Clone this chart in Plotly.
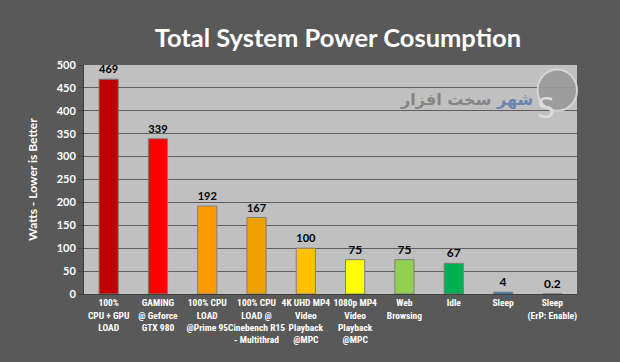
import plotly.graph_objects as go

categories = [
    "100%<br>CPU + GPU<br>LOAD",
    "GAMING<br>@ Geforce<br>GTX 980",
    "100% CPU<br>LOAD<br>@Prime 95",
    "100% CPU<br>LOAD @<br>Cinebench R15<br>- Multithrad",
    "4K UHD MP4<br>Video<br>Playback<br>@MPC",
    "1080p MP4<br>Video<br>Playback<br>@MPC",
    "Web<br>Browsing",
    "Idle",
    "Sleep",
    "Sleep<br>(ErP: Enable)",
]
values = [469, 339, 192, 167, 100, 75, 75, 67, 4, 0.2]
value_labels = ["469", "339", "192", "167", "100", "75", "75", "67", "4", "0.2"]
colors = ["#C00000", "#FF0000", "#FF9900", "#EDA000", "#FFC000",
          "#FFFF00", "#92D050", "#00B050", "#0070C0", "#1a1a1a"]
y_ticks = [0, 50, 100, 150, 200, 250, 300, 350, 400, 450, 500]

x_idx = list(range(len(categories)))

fig = go.Figure()
fig.add_trace(go.Bar(
    x=x_idx, y=values,
    marker=dict(color=colors, line=dict(color="#7f7f7f", width=1)),
    text=["<b>%s</b>" % t for t in value_labels], textposition="outside", cliponaxis=False,
    textfont=dict(family="Lato", size=12, color="#000000"),
    width=0.39,
))

fig.update_layout(
    width=620, height=362,
    paper_bgcolor="#595959", plot_bgcolor="#C0C0C0",
    margin=dict(l=84, r=43, t=65, b=68, autoexpand=False),
    showlegend=False,
    title=dict(text="<b>Total System Power Cosumption</b>", x=0.545, xanchor="center",
               y=0.895, yanchor="middle",
               font=dict(family="Lato", size=25.5, color="#FFFFFF")),
    font=dict(family="Lato"),
)
fig.update_xaxes(
    tickmode="array", tickvals=x_idx, ticktext=["<b>%s</b>" % c for c in categories],
    range=[-0.5, 9.5], showgrid=False, ticks="", tickangle=0, automargin=False,
    tickfont=dict(family="Liberation Sans Narrow, Roboto Condensed, Lato", size=9.5, color="#FFFFFF"),
    showline=True, linecolor="#404040", linewidth=1,
)
fig.update_yaxes(
    range=[0, 500], tickvals=y_ticks, ticktext=["<b>%d</b>" % v for v in y_ticks],
    showgrid=True, gridcolor="#5f5f5f", gridwidth=1, automargin=False,
    ticks="outside", ticklen=5, tickcolor="#404040",
    showline=True, linecolor="#404040", linewidth=1,
    tickfont=dict(family="Lato", size=11, color="#FFFFFF"),
    title=dict(text="<b>Watts - Lower is Better</b>", standoff=16,
               font=dict(family="Lato", size=12, color="#FFFFFF")),
    zeroline=False,
)

# watermark
fig.add_shape(type="circle", xref="paper", yref="paper",
              x0=0.92, x1=1.0, y0=0.8, y1=0.98,
              fillcolor="#9a9a9a", line=dict(color="#d8d8d8", width=2), opacity=0.9)
fig.add_annotation(xref="paper", yref="paper", x=0.96, y=0.89, text="S",
                   showarrow=False, font=dict(family="DejaVu Sans", size=28, color="#dcdcdc"))
fig.add_annotation(xref="paper", yref="paper", x=0.915, y=0.9, xanchor="right",
                   text="<b><span style='color:#6a84b0'>شهر</span> سخت افزار</b>",
                   showarrow=False, font=dict(family="DejaVu Sans", size=16, color="#858585"))

fig.write_html("out.html", config={"displayModeBar": False},
               post_script="document.body.style.margin='0';document.body.style.overflow='hidden';")
